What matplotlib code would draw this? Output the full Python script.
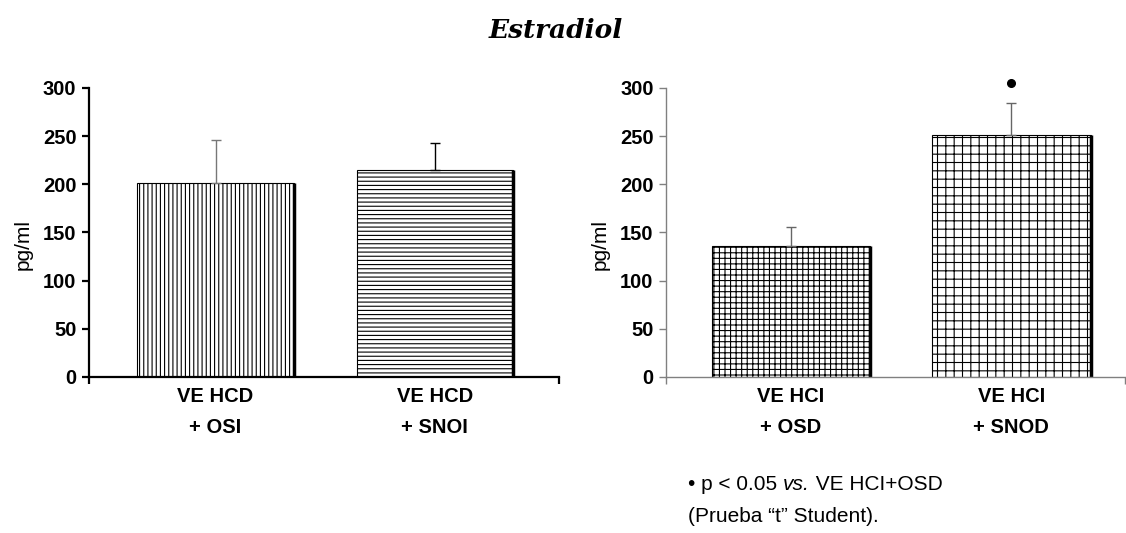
import numpy as np
import matplotlib
matplotlib.use('Agg')
import matplotlib.pyplot as plt

plt.rcParams['font.family'] = ['Liberation Sans', 'DejaVu Sans']
plt.rcParams['hatch.linewidth'] = 0.8

# datos
left_line1 = ['VE HCD', 'VE HCD']
left_line2 = ['+ OSI', '+ SNOI']
left_mean = [201.5, 215]
left_err = [44.5, 28]

right_line1 = ['VE HCI', 'VE HCI']
right_line2 = ['+ OSD', '+ SNOD']
right_mean = [135.8, 251]
right_err = [19.7, 33]
right_sig = [None, 305]

yticks = [0, 50, 100, 150, 200, 250, 300]

fs = 14.5

fig = plt.figure(figsize=(11.26, 5.33), dpi=100)
ax1 = fig.add_axes([0.079, 0.2927, 0.4175, 0.5422])
ax2 = fig.add_axes([0.5915, 0.2927, 0.4075, 0.5422])


def panel(ax, means, errs, hatches, ecolors, line1, line2, width, xlim, spcol, splw):
    x = np.arange(len(means))
    ax.bar(x, means, width, color='white', edgecolor='black', linewidth=0.8,
           hatch=hatches)
    # sombra del borde derecho
    ax.vlines(x + width / 2, 0, means, color='black', linewidth=2.5)
    for i in range(len(means)):
        ax.errorbar(x[i], means[i], yerr=[[0], [errs[i]]], fmt='none',
                    ecolor=ecolors[i], elinewidth=1, capsize=3.5, capthick=1)
        ax.text(x[i], -0.069, line1[i], transform=ax.get_xaxis_transform(),
                ha='center', va='center', fontsize=fs, fontweight='bold')
        ax.text(x[i], -0.176, line2[i], transform=ax.get_xaxis_transform(),
                ha='center', va='center', fontsize=fs, fontweight='bold')
    ax.set_xlim(xlim)
    ax.set_ylim(0, 300)
    ax.set_yticks(yticks)
    ax.set_yticklabels([str(t) for t in yticks], fontsize=fs, fontweight='bold')
    ax.set_xticks(xlim)
    ax.set_xticklabels(['', ''])
    for s in ['top', 'right']:
        ax.spines[s].set_visible(False)
    for s in ['left', 'bottom']:
        ax.spines[s].set_color(spcol)
        ax.spines[s].set_linewidth(splw)
    ax.tick_params(direction='out', length=5, width=splw, color=spcol, pad=4)
    return x


panel(ax1, left_mean, left_err, ['||||', '----'], ['#777777', 'black'],
      left_line1, left_line2, 0.712, [-0.577, 1.566], 'black', 1.6)
xr = panel(ax2, right_mean, right_err, ['+++', '++'], ['#666666', '#666666'],
           right_line1, right_line2, 0.72, [-0.567, 1.516], '#808080', 1.0)

for i in range(len(right_sig)):
    if right_sig[i] is not None:
        ax2.plot(xr[i], right_sig[i], 'o', color='black', markersize=5.5, clip_on=False)

fig.text(23 / 1126, 1 - 244 / 533, 'pg/ml', rotation=90, ha='center', va='center',
         fontsize=15)
fig.text(600 / 1126, 1 - 244 / 533, 'pg/ml', rotation=90, ha='center', va='center',
         fontsize=15)

fig.text(556 / 1126, 1 - 30 / 533, 'Estradiol', ha='center', va='center',
         fontsize=19, fontweight='bold', style='italic', family='DejaVu Serif')

# nota al pie, por partes para la cursiva
renderer = fig.canvas.get_renderer()
xpos = 688
ypos = 1 - 485 / 533
for txt, st in [('• p < 0.05 ', 'normal'), ('vs.', 'italic'), (' VE HCI+OSD', 'normal')]:
    t = fig.text(xpos / 1126, ypos, txt, ha='left', va='center', fontsize=15, style=st)
    xpos += t.get_window_extent(renderer).width
fig.text(688 / 1126, 1 - 517 / 533, '(Prueba “t” Student).',
         ha='left', va='center', fontsize=15)

fig.savefig('out.png', dpi=100)
